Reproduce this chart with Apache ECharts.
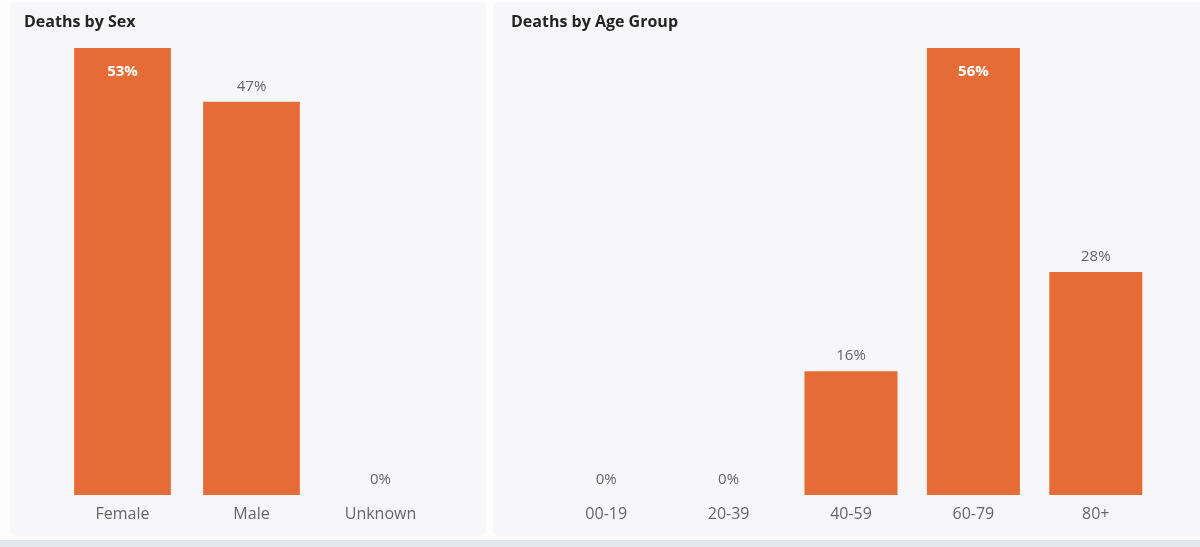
<!DOCTYPE html>
<html>
<head>
<meta charset="utf-8">
<script src="https://cdn.jsdelivr.net/npm/echarts@6/dist/echarts.min.js"></script>
<style>
html,body{margin:0;padding:0;background:#fdfdfd;}
#c{width:1200px;height:547px;}
</style>
</head>
<body>
<div id="c"></div>
<script>
var sexCategories = ['Female', 'Male', 'Unknown'];
var sexValues = [53.2, 46.8, 0];
var ageCategories = ['00-19', '20-39', '40-59', '60-79', '80+'];
var ageValues = [0, 0, 15.6, 56.3, 28.1];

var FONT = '"Segoe UI", "Open Sans", "Noto Sans", sans-serif';
var ORANGE = '#E66C37';
var GRAY = '#666666';

function buildData(vals) {
  var mx = Math.max.apply(null, vals);
  return vals.map(function (v) {
    if (v === mx) {
      return {
        value: v,
        label: { position: 'insideTop', distance: 16, color: '#ffffff', fontWeight: 'bold' }
      };
    }
    return { value: v };
  });
}

var labelBase = {
  show: true,
  position: 'top',
  distance: 8,
  color: GRAY,
  fontSize: 15,
  fontFamily: FONT,
  formatter: function (p) { return Math.round(p.value) + '%'; }
};

var chart = echarts.init(document.getElementById('c'), null, { renderer: 'canvas' });
chart.setOption({
  animation: false,
  backgroundColor: '#fdfdfd',
  graphic: [
    { type: 'rect', z: -10, shape: { x: 10, y: 2, width: 476, height: 534, r: 6 }, style: { fill: '#f7f7f9' } },
    { type: 'rect', z: -10, shape: { x: 493, y: 2, width: 715, height: 534, r: 6 }, style: { fill: '#f7f7f9' } },
    { type: 'rect', z: -10, shape: { x: 0, y: 540, width: 1200, height: 7 }, style: { fill: '#e4e8ee' } }
  ],
  title: [
    { text: 'Deaths by Sex', left: 19, top: 9, textStyle: { fontFamily: FONT, fontSize: 16, fontWeight: 'bold', color: '#252423' } },
    { text: 'Deaths by Age Group', left: 506, top: 9, textStyle: { fontFamily: FONT, fontSize: 16, fontWeight: 'bold', color: '#252423' } }
  ],
  grid: [
    { left: 58, top: 48, width: 387, height: 447 },
    { left: 545, top: 48, width: 612, height: 447 }
  ],
  xAxis: [
    { type: 'category', gridIndex: 0, data: sexCategories, axisLine: { show: false }, axisTick: { show: false },
      axisLabel: { color: GRAY, fontSize: 16, fontFamily: FONT, margin: 11 } },
    { type: 'category', gridIndex: 1, data: ageCategories, axisLine: { show: false }, axisTick: { show: false },
      axisLabel: { color: GRAY, fontSize: 16, fontFamily: FONT, margin: 11 } }
  ],
  yAxis: [
    { type: 'value', gridIndex: 0, min: 0, max: 'dataMax', show: false, splitLine: { show: false } },
    { type: 'value', gridIndex: 1, min: 0, max: 'dataMax', show: false, splitLine: { show: false } }
  ],
  series: [
    { type: 'bar', xAxisIndex: 0, yAxisIndex: 0, data: buildData(sexValues), barWidth: '75%',
      itemStyle: { color: ORANGE }, label: labelBase },
    { type: 'bar', xAxisIndex: 1, yAxisIndex: 1, data: buildData(ageValues), barWidth: '76%',
      itemStyle: { color: ORANGE }, label: labelBase }
  ]
});
</script>
</body>
</html>
